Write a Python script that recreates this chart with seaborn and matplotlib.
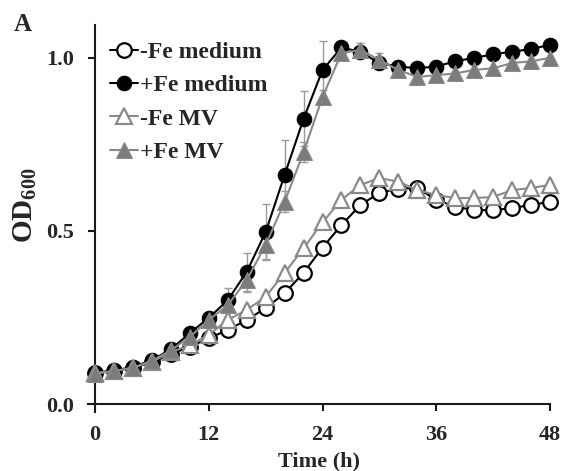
import matplotlib
matplotlib.use("Agg")
import matplotlib.pyplot as plt
import seaborn as sns
import numpy as np

# growth curves, OD600 read every 2 h
time_h = list(range(0, 49, 2))

neg_medium = [0.090, 0.095, 0.105, 0.120, 0.145, 0.165, 0.190, 0.214, 0.243, 0.277,
              0.320, 0.379, 0.452, 0.517, 0.575, 0.610, 0.622, 0.624, 0.590, 0.570,
              0.560, 0.560, 0.566, 0.575, 0.584]
pos_medium = [0.090, 0.097, 0.107, 0.127, 0.158, 0.205, 0.249, 0.300, 0.382, 0.497,
              0.662, 0.824, 0.965, 1.030, 1.017, 0.985, 0.975, 0.970, 0.975, 0.990,
              1.000, 1.010, 1.018, 1.025, 1.038]
neg_mv = [0.090, 0.095, 0.105, 0.122, 0.150, 0.170, 0.200, 0.243, 0.272, 0.310,
          0.379, 0.450, 0.525, 0.590, 0.633, 0.653, 0.642, 0.618, 0.604, 0.595,
          0.595, 0.598, 0.618, 0.624, 0.633]
pos_mv = [0.088, 0.095, 0.105, 0.125, 0.155, 0.194, 0.243, 0.286, 0.358, 0.460,
          0.584, 0.728, 0.887, 1.014, 1.023, 0.994, 0.965, 0.945, 0.950, 0.955,
          0.965, 0.970, 0.985, 0.990, 1.000]

# standard deviations (only visible ones)
pos_medium_err = [0, 0, 0, 0, 0, 0, 0, 0.035, 0.055, 0.08,
                  0.10, 0.08, 0.085, 0.015, 0, 0, 0, 0, 0, 0,
                  0, 0, 0, 0, 0]
pos_mv_err = [0, 0, 0, 0, 0, 0, 0, 0, 0.034, 0.04,
              0.03, 0.03, 0.02, 0.02, 0.02, 0.02, 0, 0, 0, 0,
              0, 0, 0, 0, 0]

labels = ["-Fe medium", "+Fe medium", "-Fe MV", "+Fe MV"]

sns.set_style("ticks")
plt.rcParams["font.family"] = ["Liberation Serif", "DejaVu Serif"]
plt.rcParams["font.weight"] = "bold"
plt.rcParams["mathtext.fontset"] = "custom"
plt.rcParams["mathtext.rm"] = "Liberation Serif:bold"
plt.rcParams["mathtext.bf"] = "Liberation Serif:bold"

fig = plt.figure(figsize=(5.62, 4.71), dpi=100)
ax = fig.add_axes([0.1566, 0.1253, 0.822, 0.8217])

GREY = "#8a8a8a"
ERR = "#9a9a9a"

ax.errorbar(time_h, pos_medium, yerr=pos_medium_err, fmt="none", ecolor=ERR,
            elinewidth=1, capsize=3, capthick=1, zorder=1)
ax.errorbar(time_h, pos_mv, yerr=pos_mv_err, fmt="none", ecolor=ERR,
            elinewidth=1, capsize=3, capthick=1, zorder=1)

ms = 10.5
sns.lineplot(x=time_h, y=neg_medium, ax=ax, color="black", lw=1.5, marker="o",
             markersize=ms, markerfacecolor="white", markeredgecolor="black",
             markeredgewidth=1.6, label=labels[0], clip_on=False, zorder=2)
sns.lineplot(x=time_h, y=pos_medium, ax=ax, color="black", lw=1.5, marker="o",
             markersize=ms, markerfacecolor="black", markeredgecolor="black",
             label=labels[1], clip_on=False, zorder=3)
sns.lineplot(x=time_h, y=neg_mv, ax=ax, color=GREY, lw=1.5, marker="^",
             markersize=ms + 1, markerfacecolor="white", markeredgecolor=GREY,
             markeredgewidth=1.6, label=labels[2], clip_on=False, zorder=4)
sns.lineplot(x=time_h, y=pos_mv, ax=ax, color=GREY, lw=1.5, marker="^",
             markersize=ms + 1, markerfacecolor="#7c7c7c", markeredgecolor=GREY,
             label=labels[3], clip_on=False, zorder=5)

ax.set_xlim(-0.75, 48)
ax.set_ylim(-0.023, 1.095)
ax.spines["left"].set_position(("data", 0))
ax.spines["bottom"].set_position(("data", 0))
ax.spines["right"].set_visible(False)
ax.spines["top"].set_visible(False)
for s in ("left", "bottom"):
    ax.spines[s].set_linewidth(1.5)
    ax.spines[s].set_color("#1a1a1a")
ax.spines["bottom"].set_bounds(-0.75, 48)
ax.spines["left"].set_bounds(-0.023, 1.095)

ax.set_xticks([0, 12, 24, 36, 48])
ax.set_yticks([0.0, 0.5, 1.0])
ax.set_yticklabels(["0.0", "0.5", "1.0"])
ax.tick_params(axis="both", direction="out", length=5, width=1.5, pad=10,
               labelsize=16, color="#1a1a1a")

ax.set_xlabel("Time (h)", fontsize=16, fontweight="bold", labelpad=5)
ax.set_ylabel(r"$\mathbf{OD_{600}}$", fontsize=21)
ax.yaxis.set_label_coords(-0.106, 0.535)

leg = ax.legend(loc="upper left", bbox_to_anchor=(0.196, 0.912),
                bbox_transform=fig.transFigure, frameon=False, fontsize=17,
                handlelength=1.2, handletextpad=0.05, labelspacing=0.5,
                borderpad=0, borderaxespad=0)

fig.text(0.025, 0.935, "A", fontsize=18, fontweight="bold")

fig.savefig("out.png", dpi=100)
